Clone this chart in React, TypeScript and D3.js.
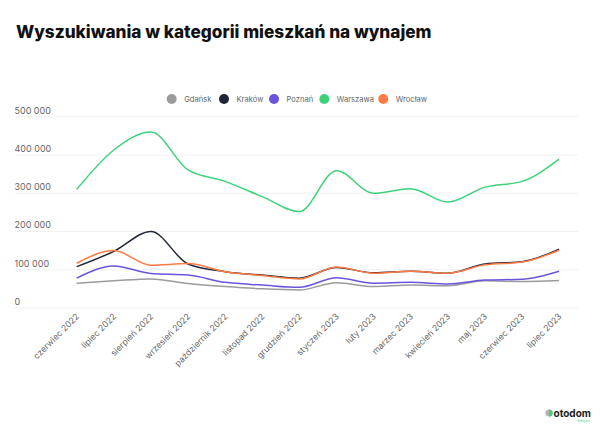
import React from "react";
import * as d3 from "d3";

const months = [
  "czerwiec 2022", "lipiec 2022", "sierpień 2022", "wrzesień 2022", "październik 2022",
  "listopad 2022", "grudzień 2022", "styczeń 2023", "luty 2023", "marzec 2023",
  "kwiecień 2023", "maj 2023", "czerwiec 2023", "lipiec 2023",
];

const gdansk = [65000, 71000, 76000, 64000, 56000, 50000, 47000, 66000, 56000, 60000, 58000, 71000, 69000, 72000];
const krakow = [108000, 148000, 200000, 115000, 95000, 86000, 78000, 106000, 92000, 96000, 91000, 115000, 121000, 154000];
const poznan = [78000, 110000, 90000, 86000, 67000, 60000, 54000, 79000, 65000, 67000, 63000, 73000, 75000, 96000];
const warszawa = [310000, 413000, 460000, 361000, 331000, 291000, 252000, 359000, 300000, 312000, 277000, 316000, 331000, 389000];
const wroclaw = [117000, 150000, 112000, 116000, 95000, 85000, 76000, 107000, 91000, 96000, 91000, 113000, 120000, 151000];

const yTicks = [0, 100000, 200000, 300000, 400000, 500000];

const seriesNames = ["Gdańsk", "Kraków", "Poznań", "Warszawa", "Wrocław"];
const seriesValues = [gdansk, krakow, poznan, warszawa, wroclaw];
const seriesColors = ["#9b9b9b", "#1e2638", "#6c53de", "#3dd27a", "#ff7a45"];
// draw order: gray, purple, green, navy, orange on top
const drawOrder = [0, 2, 3, 1, 4];
const legendX = [171.7, 224, 274, 324.3, 383.3];

const FONT = "Inter, 'Noto Sans', sans-serif";

export default function App() {
  const W = 600, H = 427;
  const x = d3.scalePoint<string>().domain(months).range([76.7, 559.1]);
  const y = d3.scaleLinear().domain([0, 500000]).range([308, 116.7]);
  const line = d3
    .line<number>()
    .x((_, i) => x(months[i]) as number)
    .y((d) => y(d))
    .curve(d3.curveMonotoneX);
  const fmt = (v: number) => d3.format(",")(v).replace(/,/g, " ");

  return (
    <svg
      width={W}
      height={H}
      style={{ position: "absolute", left: 0, top: 0, background: "#fff" }}
      fontFamily={FONT}
    >
      <rect width={W} height={H} fill="#fff" />
      <text x={16} y={37.5} fontSize={17.2} fontWeight={800} fill="#111">
        Wyszukiwania w kategorii mieszkań na wynajem
      </text>

      {/* legend */}
      {seriesNames.map((n, i) => (
        <g key={n}>
          <circle cx={legendX[i]} cy={99} r={5} fill={seriesColors[i]} />
          <text x={legendX[i] + 12.5} y={101.8} fontSize={7.6} fill="#666">
            {n}
          </text>
        </g>
      ))}

      {/* grid + y labels */}
      {yTicks.map((t) => (
        <g key={t}>
          <line x1={15} x2={578} y1={y(t)} y2={y(t)} stroke="#f1f1f1" strokeWidth={1} />
          <text x={14.5} y={y(t) - 3} fontSize={9} fill="#666">
            {fmt(t)}
          </text>
        </g>
      ))}

      {/* x labels */}
      {months.map((m) => (
        <text
          key={m}
          transform={`translate(${(x(m) as number) + 3},${317}) rotate(-45)`}
          textAnchor="end"
          fontSize={8.6}
          fill="#666"
        >
          {m}
        </text>
      ))}

      {/* lines */}
      {drawOrder.map((i) => (
        <path
          key={seriesNames[i]}
          d={line(seriesValues[i]) || ""}
          fill="none"
          stroke={seriesColors[i]}
          strokeWidth={1.5}
        />
      ))}

      {/* logo */}
      <g>
        <circle cx={549} cy={413} r={3.6} fill="#b5b5b5" />
        <path d="M549,409.4 A3.6,3.6 0 0 1 549,416.6 Z" fill="#3dd27a" />
        <text x={553.5} y={416.5} fontSize={10} fontWeight={700} fill="#222">
          otodom
        </text>
        <text x={590} y={421.5} fontSize={3} textAnchor="end" fill="#3dd27a">
          Analytics
        </text>
      </g>
    </svg>
  );
}
